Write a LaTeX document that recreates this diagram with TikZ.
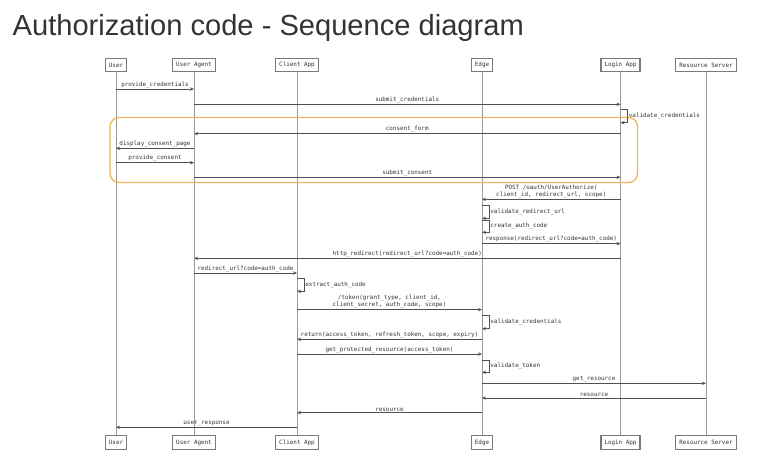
\documentclass[tikz,border=0pt]{standalone}
\usepackage{fontspec}
\setmainfont{Liberation Sans}
\setmonofont{DejaVu Sans Mono}
\usetikzlibrary{arrows.meta,positioning}
\definecolor{seqInk}{HTML}{333333}
\definecolor{seqLine}{HTML}{9A9A9A}
\definecolor{seqArrow}{HTML}{505050}
\definecolor{seqBox}{HTML}{7A7A7A}
\definecolor{seqOrange}{HTML}{F0B45C}
\tikzset{
  actor/.style={draw=seqBox,line width=1.1pt,fill=white,inner xsep=3.5pt,inner ysep=0pt,
                minimum height=13.4pt,font=\fontsize{5.9}{7}\ttfamily,text=seqInk},
  life/.style={draw=seqLine,line width=1pt},
  msg/.style={-{Stealth[length=4pt,width=3.4pt]},draw=seqArrow,line width=0.8pt},
  lbl/.style={font=\fontsize{5.9}{7.3}\ttfamily,text=seqInk,inner sep=1pt,align=center},
  grp/.style={draw=seqOrange,line width=1.3pt,rounded corners=9pt},
}

\begin{document}
\begin{tikzpicture}[x=1pt,y=-1pt]
  \useasboundingbox (0,0) rectangle (770,459);
  \node[anchor=base west,inner sep=0,font=\fontsize{29.1}{31}\selectfont,text=seqInk] (title)
    at (12.5,35.5) {Authorization code - Sequence diagram};

  % participants
  \node[actor] (user)   at (116,65)   {User};
  \node[actor] (agent)  at (194,65)   {User Agent};
  \node[actor] (client) at (297,65)   {Client App};
  \node[actor] (edge)   at (482,65)   {Edge};
  \node[actor] (login)  at (620.5,65) {Login App};
  \node[actor] (rsrv)   at (706,65)   {Resource Server};
  \node[actor] (userB)   at (116,442.5)   {User};
  \node[actor] (agentB)  at (194,442.5)   {User Agent};
  \node[actor] (clientB) at (297,442.5)   {Client App};
  \node[actor] (edgeB)   at (482,442.5)   {Edge};
  \node[actor] (loginB)  at (620.5,442.5) {Login App};
  \node[actor] (rsrvB)   at (706,442.5)   {Resource Server};

  % lifelines
  \draw[life] (user) -- (userB);
  \draw[life] (agent) -- (agentB);
  \draw[life] (client) -- (clientB);
  \draw[life] (edge) -- (edgeB);
  \draw[life] (login) -- (loginB);
  \draw[life] (rsrv) -- (rsrvB);

  % consent block
  \draw[grp] (110,117.5) rectangle (637.5,182.5);

  % message rows
  \coordinate (r1) at (0,89);
  \coordinate (r2) at (0,104.3);
  \coordinate (r3) at (0,109.3);
  \coordinate (r4) at (0,133.7);
  \coordinate (r5) at (0,148.3);
  \coordinate (r6) at (0,162.7);
  \coordinate (r7) at (0,177.3);
  \coordinate (r8) at (0,199.3);
  \coordinate (r9) at (0,205.3);
  \coordinate (r10) at (0,220.3);
  \coordinate (r11) at (0,243.7);
  \coordinate (r12) at (0,258.3);
  \coordinate (r13) at (0,273);
  \coordinate (r14) at (0,278.7);
  \coordinate (r15) at (0,309.7);
  \coordinate (r16) at (0,315.3);
  \coordinate (r17) at (0,339.3);
  \coordinate (r18) at (0,354);
  \coordinate (r19) at (0,360);
  \coordinate (r20) at (0,383.3);
  \coordinate (r21) at (0,398);
  \coordinate (r22) at (0,412.7);
  \coordinate (r23) at (0,427.3);

  \draw[msg] (user |- r1) -- node[lbl,above]{provide\_credentials} (agent |- r1);
  \draw[msg] (agent |- r2) -- node[lbl,above]{submit\_credentials} (login |- r2);
  \draw[msg] (login |- r3) -- ++(7,0) -- node[lbl,right]{validate\_credentials} ++(0,13.4) -- ++(-7,0);
  \draw[msg] (login |- r4) -- node[lbl,above]{consent\_form} (agent |- r4);
  \draw[msg] (agent |- r5) -- node[lbl,above]{display\_consent\_page} (user |- r5);
  \draw[msg] (user |- r6) -- node[lbl,above]{provide\_consent} (agent |- r6);
  \draw[msg] (agent |- r7) -- node[lbl,above]{submit\_consent} (login |- r7);
  \draw[msg] (login |- r8) -- node[lbl,above]{POST /oauth/UserAuthorize(\\client\_id, redirect\_url, scope)} (edge |- r8);
  \draw[msg] (edge |- r9) -- ++(7,0) -- node[lbl,right]{validate\_redirect\_url} ++(0,13) -- ++(-7,0);
  \draw[msg] (edge |- r10) -- ++(7,0) -- node[lbl,right]{create\_auth\_code} ++(0,12) -- ++(-7,0);
  \draw[msg] (edge |- r11) -- node[lbl,above]{response(redirect\_url?code=auth\_code)} (login |- r11);
  \draw[msg] (login |- r12) -- node[lbl,above]{http\_redirect(redirect\_url?code=auth\_code)} (agent |- r12);
  \draw[msg] (agent |- r13) -- node[lbl,above]{redirect\_url?code=auth\_code} (client |- r13);
  \draw[msg] (client |- r14) -- ++(7,0) -- node[lbl,right]{extract\_auth\_code} ++(0,12.6) -- ++(-7,0);
  \draw[msg] (client |- r15) -- node[lbl,above]{/token(grant\_type, client\_id,\\client\_secret, auth\_code, scope)} (edge |- r15);
  \draw[msg] (edge |- r16) -- ++(7,0) -- node[lbl,right]{validate\_credentials} ++(0,13.4) -- ++(-7,0);
  \draw[msg] (edge |- r17) -- node[lbl,above]{return(access\_token, refresh\_token, scope, expiry)} (client |- r17);
  \draw[msg] (client |- r18) -- node[lbl,above]{get\_protected\_resource(access\_token)} (edge |- r18);
  \draw[msg] (edge |- r19) -- ++(7,0) -- node[lbl,right]{validate\_token} ++(0,12.3) -- ++(-7,0);
  \draw[msg] (edge |- r20) -- node[lbl,above]{get\_resource} (rsrv |- r20);
  \draw[msg] (rsrv |- r21) -- node[lbl,above]{resource} (edge |- r21);
  \draw[msg] (edge |- r22) -- node[lbl,above]{resource} (client |- r22);
  \draw[msg] (client |- r23) -- node[lbl,above]{user\_response} (user |- r23);
\end{tikzpicture}
\end{document}
